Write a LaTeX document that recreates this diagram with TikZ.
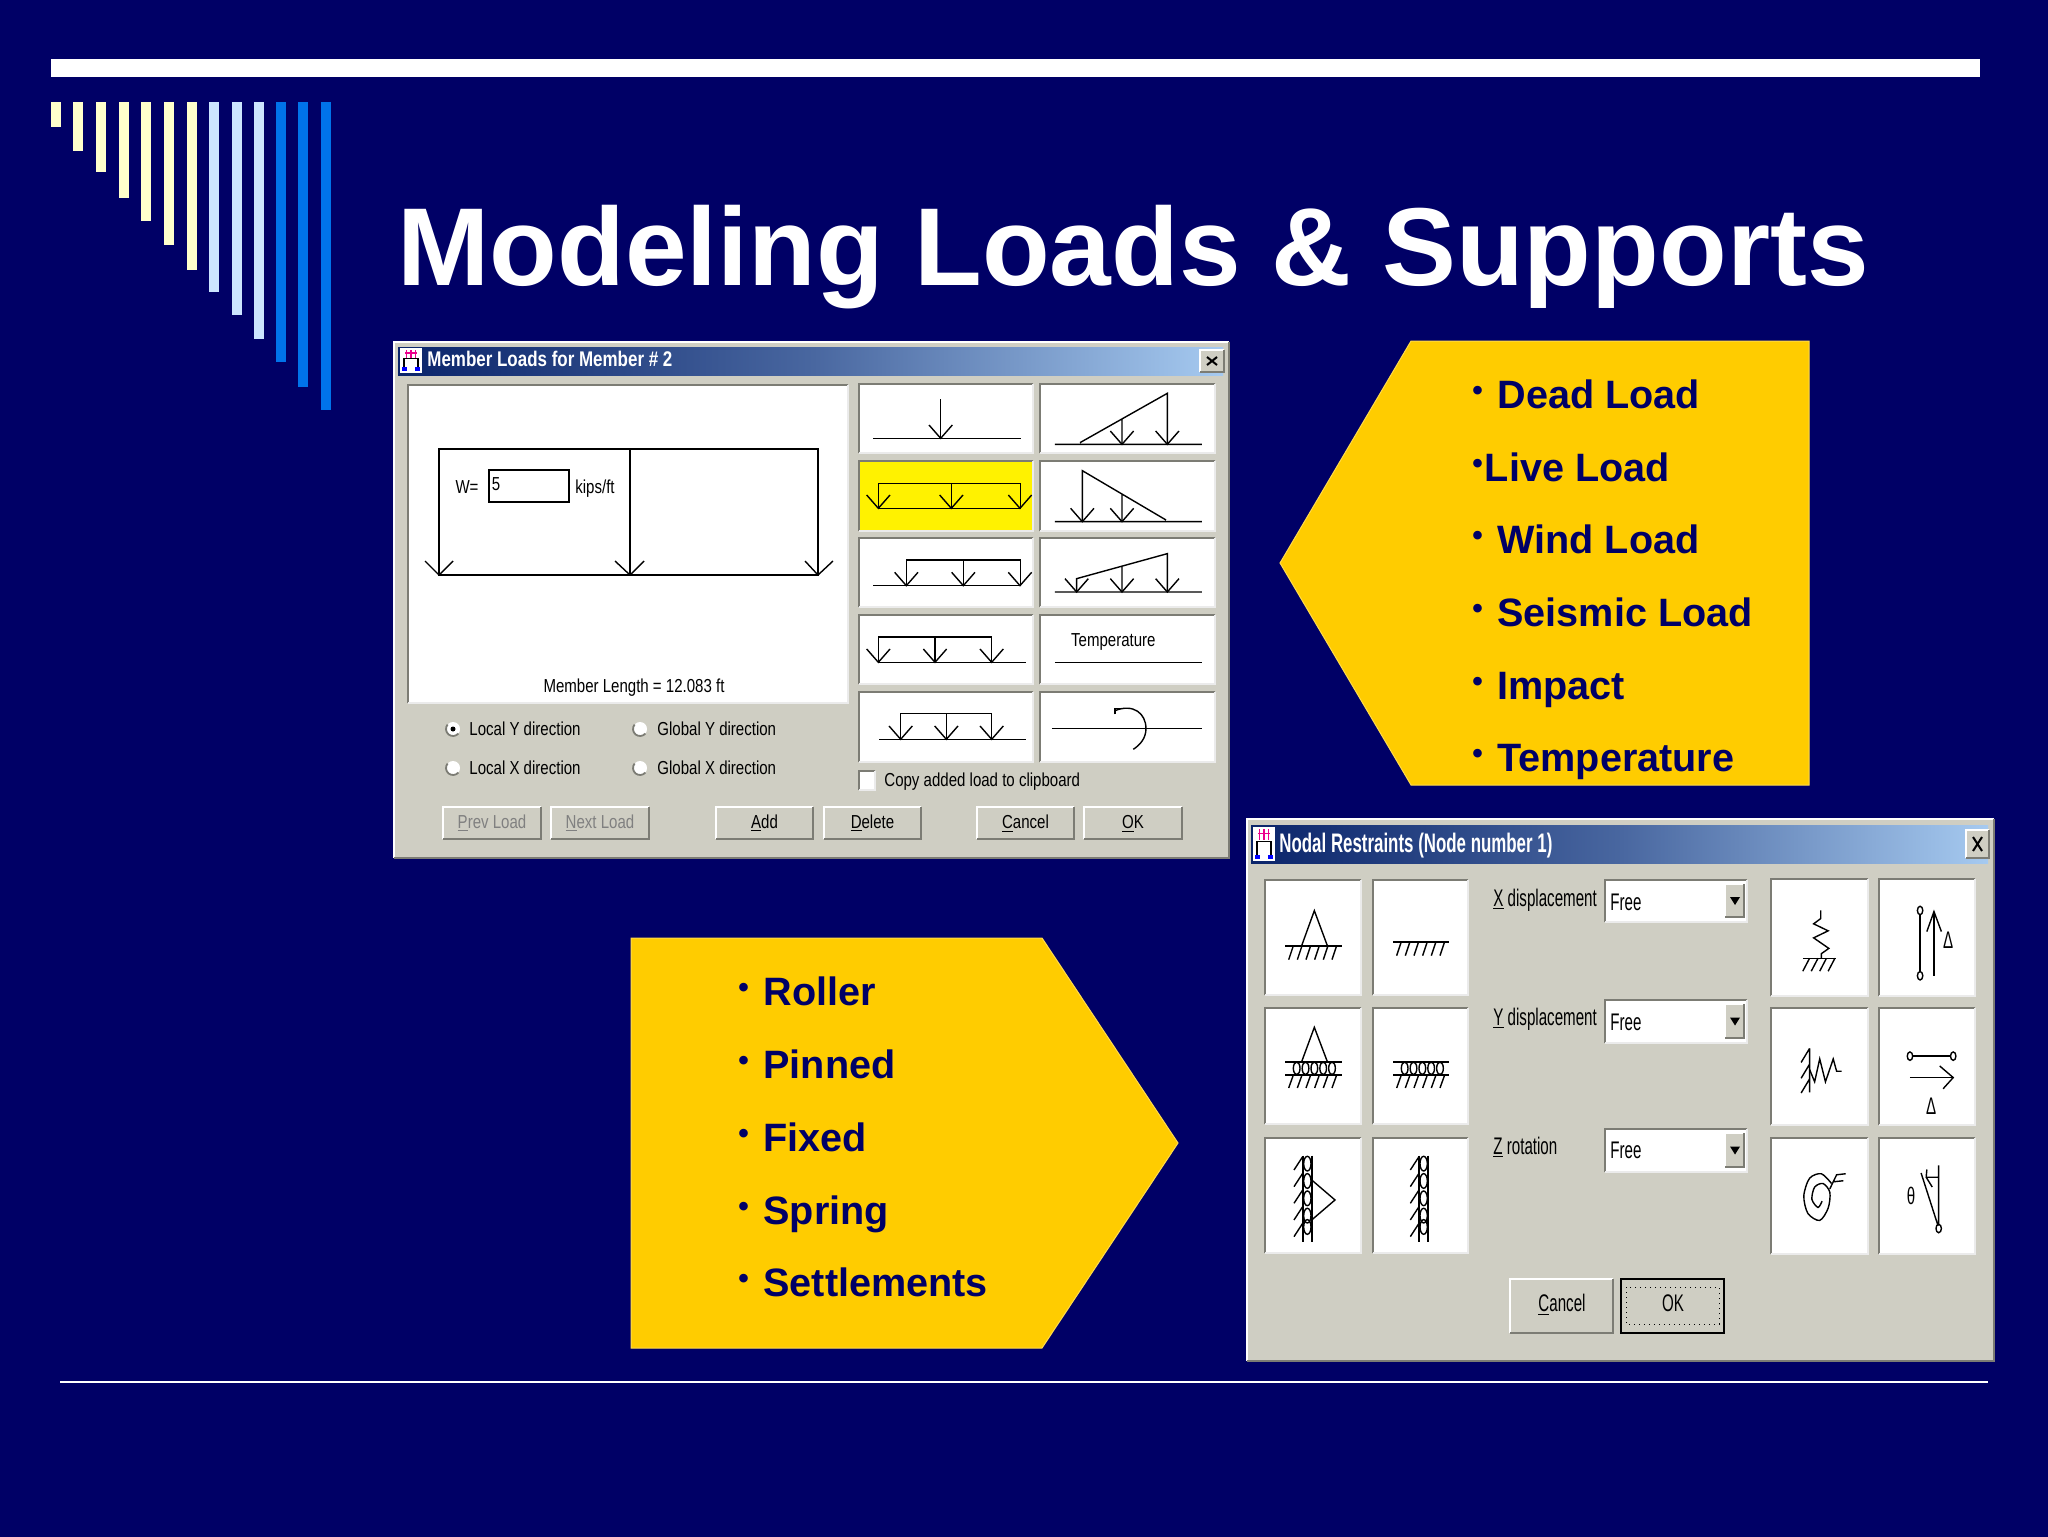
\documentclass[tikz,border=0pt]{standalone}
\usepackage{fontspec}
\setmainfont{Liberation Sans}
\newfontfamily\dlgfont[FakeStretch=0.8]{Liberation Sans}
\newfontfamily\dlgtall[FakeStretch=0.63]{Liberation Sans}
\definecolor{navybg}{HTML}{000066}
\definecolor{cream}{HTML}{FFFFCC}
\definecolor{pale}{HTML}{CCE5FF}
\definecolor{azure}{HTML}{0073EA}
\definecolor{gold}{HTML}{FFCC00}
\definecolor{dlggray}{HTML}{CFCEC3}
\definecolor{bevdark}{HTML}{7C7C74}
\definecolor{winblue}{HTML}{0A246A}
\definecolor{winpale}{HTML}{A6CAF0}
\tikzset{
  icon/.style={line width=.7pt,color=black},
  dlgtext/.style={font=\dlgfont\fontsize{9.4}{11}\selectfont,text=black,inner sep=0pt},
  tallt/.style={font=\dlgtall\fontsize{12}{14}\selectfont,text=black,inner sep=0pt},
  bullett/.style={font=\bfseries\fontsize{19.8}{24}\selectfont,text=navybg,inner sep=0pt,anchor=base west},
}
\def\mybar#1#2#3{
  % 1: left, 2: bottom, 3: colour
  \fill[#3] (#1,102) rectangle (#1+10,#2);
}
\def\myraised#1#2#3#4{
  % 1,2: top left, 3,4: bottom right
  \fill[dlggray] (#1,#2) rectangle (#3,#4);
  \draw[white,line width=.6pt] (#1,#4) -- (#1,#2) -- (#3,#2);
  \draw[bevdark,line width=1pt] (#1,#4) -- (#3,#4) -- (#3,#2);
}
\def\mysunken#1#2#3#4#5{
  % 1,2: top left, 3,4: bottom right, 5: fill
  \fill[#5] (#1,#2) rectangle (#3,#4);
  \draw[bevdark,line width=1.2pt] (#1,#4) -- (#1,#2) -- (#3,#2);
  \draw[white!92!black,line width=.8pt] (#1,#4) -- (#3,#4) -- (#3,#2);
}
\def\mybutton#1#2#3#4{
  % 1: name, 2: left, 3: right, 4: text
  \myraised{#2}{807}{#3}{839}
  \node[dlgtext,anchor=base] (#1) at ({(#2+#3)/2},828) {#4};
}
\def\myradio#1#2#3#4#5{
  % 1: name, 2: x, 3: y, 4: label x, 5: label
  \fill[white] (#2,#3) circle (7);
  \draw[bevdark,line width=.9pt] (#2,#3) ++(40:7) arc (40:220:7);
  \node[dlgtext,anchor=base west] (#1) at (#4,#3+6) {#5};
}
\def\mytitle#1#2#3#4{
  % 1: left, 2: top, 3: right, 4: bottom
  \shade[left color=winblue,right color=winpale,middle color=winblue!60!winpale] (#1,#2) rectangle (#3,#4);
}
\def\myapp#1#2#3#4{
  % 1,2: top left, 3,4: bottom right
  \fill[white] (#1,#2) rectangle (#3,#4);
  \draw[black,line width=.7pt] (#1+4,#4-3) -- (#1+4,{#2+(#4-#2)*.42}) -- (#3-4,{#2+(#4-#2)*.42}) -- (#3-4,#4-3);
  \draw[magenta,line width=.6pt] (#1+5,{#2+(#4-#2)*.2}) -- (#3-5,{#2+(#4-#2)*.2});
  \foreach \k in {.3,.5,.7} \draw[magenta,line width=.6pt] ({#1+(#3-#1)*\k},#2+2) -- ({#1+(#3-#1)*\k},{#2+(#4-#2)*.38});
  \fill[blue] (#1+2,#4-6) rectangle +(5,4);
  \fill[blue] (#3-7,#4-6) rectangle +(5,4);
}
\def\myclose#1#2#3#4{
  % 1,2: top left, 3,4: bottom right
  \myraised{#1}{#2}{#3}{#4}
  \draw[black,line width=1pt] (#1+7,#2+7) -- (#3-7,#4-7) (#3-7,#2+7) -- (#1+7,#4-7);
}
\def\mycombo#1#2#3#4{
  % 1: name, 2: top, 3: bottom, 4: baseline
  \mysunken{1605}{#2}{1747}{#3}{white}
  \myraised{1725}{#2+4}{1744}{#3-5}
  \fill[black] (1730,{(#2+#3)/2-4}) -- (1740,{(#2+#3)/2-4}) -- (1735,{(#2+#3)/2+4}) -- cycle;
  \node[tallt,anchor=base west] (#1) at (1610,#4) {Free};
}
\def\myhead#1#2{
  % 1,2: tip, units of the crop scope
  \draw[icon] (#1-35,#2-40) -- (#1,#2) -- (#1+35,#2-40);
}
\def\mybullet#1#2#3#4{
  % 1: name, 2: x, 3: baseline, 4: text
  \node[bullett] (#1) at (#2,#3) {\makebox[12.5pt][l]{\raisebox{.2em}{\fontsize{15}{15}\selectfont\textbullet}}#4};
}
\def\myground#1#2#3{
  % 1: x from, 2: x to, 3: y
  \draw[icon,line width=1pt] (#1,#3) -- (#2,#3);
  \foreach \k in {0,1,2,3,4,5} \draw[icon] ({#1+24+\k*26},#3) -- ({#1+10+\k*26},#3+42);
}
\def\myrollers#1#2#3{
  % 1: x from, 2: x to, 3: y of the upper line
  \draw[icon] (#1,#3) -- (#2,#3) (#1,#3+39) -- (#2,#3+39);
  \foreach \k in {0,1,2,3,4} \draw[icon] ({#1+34+\k*26.5},#3+19) ellipse (10 and 19);
  \foreach \k in {0,1,2,3,4,5} \draw[icon] ({#1+24+\k*26},#3+39) -- ({#1+10+\k*26},#3+78);
}
\def\mywall#1{
  % 1: x of the left line
  \draw[icon,line width=1pt] (#1,1022) -- (#1,1280) (#1+27,1022) -- (#1+27,1280);
  \foreach \k in {1046,1098,1150,1202,1236} \draw[icon] (#1+14,\k) ellipse (11 and 22);
  \foreach \k in {1025,1075,1125,1175,1225} \draw[icon] (#1,\k) -- (#1-26,\k+40);
}
\begin{document}
\begin{tikzpicture}[x=.5pt,y=-.5pt]
  \useasboundingbox (0,0) rectangle (2048,1536);
  \fill[navybg] (-6,-6) rectangle (2054,1542);
  % top band and falling bars
  \fill[white] (51,59) rectangle (1980,77);
  \mybar{51}{127}{cream}
  \mybar{73}{151}{cream}
  \mybar{96}{172}{cream}
  \mybar{119}{198}{cream}
  \mybar{141}{221}{cream}
  \mybar{164}{245}{cream}
  \mybar{187}{270}{cream}
  \mybar{209}{292}{pale}
  \mybar{232}{315}{pale}
  \mybar{254}{339}{pale}
  \mybar{276}{362}{azure}
  \mybar{298}{387}{azure}
  \mybar{321}{410}{azure}
  \fill[white] (60,1381) rectangle (1988,1383);
  \node[font=\bfseries\fontsize{55.4}{60}\selectfont,text=white,anchor=base west,inner sep=0pt] (maintitle) at (397,285) {Modeling Loads \& Supports};

  % load list
  \draw[fill=gold,draw=gold!70!white,line width=.5pt] (1411,341) -- (1809,341) -- (1809,785) -- (1411,785) -- (1280,563) -- cycle;
  \mybullet{dead}{1472}{408}{Dead Load}
  \node[bullett] (live) at (1472,481) {\raisebox{.2em}{\fontsize{15}{15}\selectfont\textbullet}\hspace{1pt}Live Load};
  \mybullet{wind}{1472}{553}{Wind Load}
  \mybullet{seismic}{1472}{626}{Seismic Load}
  \mybullet{impact}{1472}{699}{Impact}
  \mybullet{temp}{1472}{771}{Temperature}

  % support list
  \draw[fill=gold,draw=gold!70!white,line width=.5pt] (631,938) -- (1042,938) -- (1178,1143) -- (1042,1348) -- (631,1348) -- cycle;
  \mybullet{roller}{738}{1005}{Roller}
  \mybullet{pinned}{738}{1078}{Pinned}
  \mybullet{fixed}{738}{1151}{Fixed}
  \mybullet{spring}{738}{1224}{Spring}
  \mybullet{settle}{738}{1296}{Settlements}

  % member loads dialog
  \myraised{394}{342}{1229}{858}
  \mytitle{398}{347}{1223}{375}
  \myapp{400}{348}{422}{373}
  \node[font=\dlgfont\bfseries\fontsize{10.6}{12}\selectfont,text=white,inner sep=0pt,anchor=base west] (dlgone) at (427,366) {Member Loads for Member \# 2};
  \myclose{1200}{350}{1224}{372}
  \mysunken{408}{385}{848}{703}{white}
  \draw[icon] (439,575) -- (439,449) -- (818,449) -- (818,575) (630,449) -- (630,575);
  \draw[icon,line width=1.2pt] (438,575) -- (819,575);
  \draw[icon] (425,561) -- (439,575) -- (453,561) (615,561) -- (630,575) -- (644,561) (805,561) -- (818,575) -- (833,561);
  \draw[icon,fill=white] (489,470) rectangle (569,502);
  \node[dlgtext,anchor=base] (wlabel) at (467,493) {W=};
  \node[dlgtext,anchor=base] (wvalue) at (496,490) {5};
  \node[dlgtext,anchor=base] (wunit) at (595,493) {kips/ft};
  \node[dlgtext,anchor=base] (mlength) at (634,692) {Member Length = 12.083 ft};
  \myradio{localy}{453}{729}{469}{Local Y direction}
  \fill[black] (453,729) circle (2.5);
  \myradio{localx}{453}{768}{469}{Local X direction}
  \myradio{globaly}{640}{729}{657}{Global Y direction}
  \myradio{globalx}{640}{768}{657}{Global X direction}
  \mybutton{prevload}{443}{541}{\textcolor{gray}{\underline{P}rev Load}}
  \mybutton{nextload}{551}{649}{\textcolor{gray}{\underline{N}ext Load}}
  \mybutton{addload}{716}{813}{\underline{A}dd}
  \mybutton{delload}{824}{921}{\underline{D}elete}
  \mybutton{cancelone}{977}{1074}{\underline{C}ancel}
  \mybutton{okone}{1084}{1182}{\underline{O}K}
  \mysunken{859}{384}{1033}{453}{white}
  \mysunken{1040}{384}{1215}{453}{white}
  \mysunken{859}{461}{1033}{531}{yellow}
  \mysunken{1040}{461}{1215}{531}{white}
  \mysunken{859}{538}{1033}{607}{white}
  \mysunken{1040}{538}{1215}{607}{white}
  \mysunken{859}{615}{1033}{684}{white}
  \mysunken{1040}{615}{1215}{684}{white}
  \mysunken{859}{692}{1033}{762}{white}
  \mysunken{1040}{692}{1215}{762}{white}
  \mysunken{859}{771}{875}{790}{white}
  \node[dlgtext,anchor=base west] (copyload) at (884,786) {Copy added load to clipboard};
  \begin{scope}[shift={(850,370)},scale=.3333]
    % first column
    \draw[icon] (70,205) -- (512,205) (272,88) -- (272,205);
    \myhead{272}{205}
    \draw[icon] (85,415) rectangle (512,340) (304,340) -- (304,415);
    \myhead{85}{415} \myhead{304}{415} \myhead{510}{415}
    \draw[icon] (70,647) -- (512,647) (169,647) -- (169,570) -- (512,570) -- (512,647) (340,570) -- (340,647);
    \myhead{169}{647} \myhead{340}{647} \myhead{510}{647}
    \draw[icon] (85,877) -- (528,877) (85,877) -- (85,801) -- (425,801) -- (425,877) (255,801) -- (255,877);
    \myhead{85}{877} \myhead{255}{877} \myhead{425}{877}
    \draw[icon] (88,1108) -- (528,1108) (152,1108) -- (152,1031) -- (425,1031) -- (425,1108) (289,1031) -- (289,1108);
    \myhead{152}{1108} \myhead{289}{1108} \myhead{425}{1108}
    % second column
    \draw[icon] (615,223) -- (1056,223) (690,218) -- (952,70) -- (952,223) (816,148) -- (816,223);
    \myhead{816}{223} \myhead{952}{223}
    \draw[icon] (615,455) -- (1056,455) (948,450) -- (697,302) -- (697,455) (816,372) -- (816,455);
    \myhead{697}{455} \myhead{816}{455}
    \draw[icon] (615,666) -- (1056,666) (680,666) -- (680,626) -- (952,551) -- (952,666) (816,590) -- (816,666);
    \myhead{680}{666} \myhead{816}{666} \myhead{952}{666}
    \node[dlgtext,anchor=base] (temperature) at (790,830) {Temperature};
    \draw[icon] (615,877) -- (1056,877);
    \draw[icon] (606,1076) -- (1056,1076);
    \draw[icon] (795,1033) -- (795,1015) -- (815,1015);
    \draw[icon] (795,1022) .. controls (850,1000) and (888,1030) .. (888,1076) .. controls (888,1105) and (870,1125) .. (850,1138);
  \end{scope}

  % nodal restraints dialog
  \myraised{1247}{819}{1994}{1361}
  \mytitle{1251}{825}{1988}{863}
  \myapp{1253}{827}{1275}{861}
  \node[font=\dlgtall\bfseries\fontsize{13.4}{15}\selectfont,text=white,inner sep=0pt,anchor=base west] (dlgtwo) at (1279,852) {Nodal Restraints (Node number 1)};
  \myclose{1966}{830}{1989}{858}
  \mysunken{1265}{880}{1361}{995}{white}
  \mysunken{1373}{880}{1468}{995}{white}
  \mysunken{1265}{1008}{1361}{1124}{white}
  \mysunken{1373}{1008}{1468}{1124}{white}
  \mysunken{1265}{1138}{1361}{1253}{white}
  \mysunken{1373}{1138}{1468}{1253}{white}
  \mysunken{1771}{879}{1868}{996}{white}
  \mysunken{1879}{879}{1975}{996}{white}
  \mysunken{1771}{1008}{1868}{1125}{white}
  \mysunken{1879}{1008}{1975}{1125}{white}
  \mysunken{1771}{1138}{1868}{1254}{white}
  \mysunken{1879}{1138}{1975}{1254}{white}
  \node[tallt,anchor=base west] (xdisp) at (1493,906) {\underline{X} displacement};
  \node[tallt,anchor=base west] (ydisp) at (1493,1025) {\underline{Y} displacement};
  \node[tallt,anchor=base west] (zrot) at (1493,1154) {\underline{Z} rotation};
  \mycombo{xfree}{880}{922}{910}
  \mycombo{yfree}{1000}{1043}{1030}
  \mycombo{zfree}{1129}{1172}{1158}
  \myraised{1510}{1279}{1613}{1333}
  \node[tallt,anchor=base] (canceltwo) at (1562,1311) {\underline{C}ancel};
  \myraised{1621}{1279}{1724}{1333}
  \draw[black,line width=1pt] (1621,1279) rectangle (1724,1333);
  \draw[black,dotted,line width=.5pt] (1626,1287) rectangle (1719,1324);
  \node[tallt,anchor=base] (oktwo) at (1673,1311) {OK};
  \begin{scope}[shift={(1240,815)},scale=.3333]
    \draw[icon] (185,392) -- (223,287) -- (262,392);
    \myground{136}{306}{392}
    \myground{460}{628}{380}
    \draw[icon] (185,740) -- (223,637) -- (262,740);
    \myrollers{136}{306}{741}
    \myrollers{460}{628}{741}
    \mywall{188}
    \draw[icon] (215,1095) -- (285,1155) -- (215,1215);
    \mywall{537}
  \end{scope}
  \begin{scope}[shift={(1480,815)},xscale=.338,yscale=.351]
    % spring down
    \draw[icon] (955,408) -- (1052,408);
    \foreach \k in {0,1,2,3} \draw[icon] (975+\k*25,408) -- (955+\k*25,445);
    \draw[icon] (1008,272) -- (1008,295) -- (987,310) -- (1030,330) -- (987,350) -- (1032,380) -- (1010,395) -- (1010,408);
    % vertical settlement
    \draw[icon] (1302,284) -- (1302,446) (1343,458) -- (1343,275);
    \draw[icon] (1302,272) ellipse (8 and 12) (1302,458) ellipse (8 and 12);
    \draw[icon] (1322,332) -- (1343,275) -- (1365,332);
    \node[tallt,anchor=center] (deltav) at (1385,357) {Δ};
    % spring side
    \draw[icon] (975,665) -- (975,790) (950,705) -- (975,665) (950,750) -- (975,710) (950,792) -- (975,752);
    \draw[icon] (975,725) -- (990,760) -- (1005,695) -- (1022,760) -- (1045,695) -- (1055,730) -- (1070,730);
    % horizontal settlement
    \draw[icon] (1280,687) -- (1392,687) (1272,748) -- (1400,748);
    \draw[icon] (1272,687) ellipse (8 and 12) (1400,687) ellipse (8 and 12);
    \draw[icon] (1360,715) -- (1400,748) -- (1370,780);
    \node[tallt,anchor=center] (deltah) at (1335,830) {Δ};
    % rotational spring
    \draw[icon] plot[smooth] coordinates {(1040,1050) (1010,1022) (975,1035) (958,1085) (970,1135) (1005,1155) (1030,1120) (1035,1075) (1015,1050) (990,1060) (982,1095) (1000,1118) (1012,1100)};
    \draw[icon] (1035,1065) -- (1055,1025) -- (1082,1022) (1045,1045) -- (1075,1042);
    % rotation
    \draw[icon] (1357,998) -- (1357,1170) (1305,1020) -- (1355,1170) (1320,1032) -- (1357,1032);
    \draw[icon] (1357,1178) ellipse (8 and 12);
    \draw[icon] (1322,1010) -- (1320,1032) -- (1338,1060);
    \node[tallt,anchor=center] (thetar) at (1275,1085) {θ};
  \end{scope}
\end{tikzpicture}
\end{document}
